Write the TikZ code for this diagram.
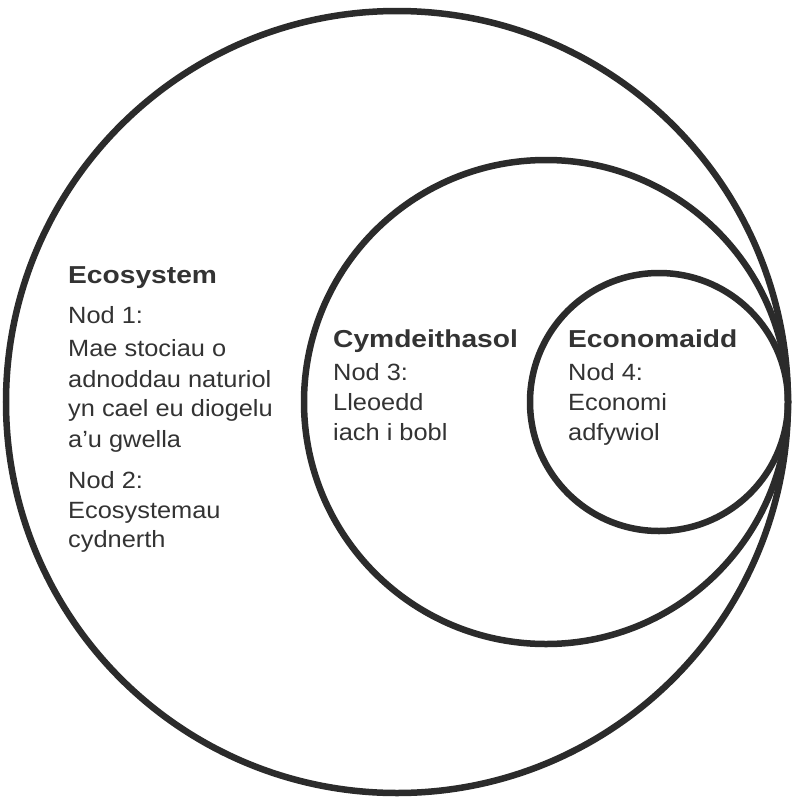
\documentclass[tikz,border=0pt]{standalone}
\usepackage{fontspec}
\newfontfamily\bodyfont{Liberation Sans}[FakeStretch=1.08]
\newfontfamily\headfont{Liberation Sans}[FakeStretch=1.15]
\definecolor{ink}{HTML}{2B2B2B}
\definecolor{txt}{HTML}{333333}
\tikzset{
  ring/.style={draw=ink, line width=6.5pt},
  title/.style={anchor=base west, inner sep=0pt, text=txt, font=\headfont\fontsize{24.5}{28}\selectfont\bfseries},
  body/.style={anchor=base west, inner sep=0pt, text=txt, font=\bodyfont\fontsize{23.5}{28}\selectfont},
}
\begin{document}
\begin{tikzpicture}[x=1pt,y=-1pt]
\useasboundingbox (0,0) rectangle (792,798);
\fill[white] (0,0) rectangle (792,798);
\node[ring, circle, minimum size=782pt, inner sep=0pt] (outer) at (397,402) {};
\node[ring, circle, minimum size=484pt, inner sep=0pt] (middle) at (546,402) {};
\node[ring, circle, minimum size=258pt, inner sep=0pt] (inner) at (659,402) {};
% Ecosystem
\node[title] (t1) at (68,283) {Ecosystem};
\node[body] (a1) at (68,323) {Nod 1:};
\node[body] (a2) at (68,356) {Mae stociau o};
\node[body] (a3) at (68,387) {adnoddau naturiol};
\node[body] (a4) at (68,416) {yn cael eu diogelu};
\node[body] (a5) at (68,447) {a’u gwella};
\node[body] (a6) at (68,488) {Nod 2:};
\node[body] (a7) at (68,518) {Ecosystemau};
\node[body] (a8) at (68,547) {cydnerth};
% Cymdeithasol
\node[title] (t2) at (333,347) {Cymdeithasol};
\node[body] (b1) at (333,380) {Nod 3:};
\node[body] (b2) at (333,410) {Lleoedd};
\node[body] (b3) at (333,440) {iach i bobl};
% Economaidd
\node[title] (t3) at (568,347) {Economaidd};
\node[body] (c1) at (568,380) {Nod 4:};
\node[body] (c2) at (568,410) {Economi};
\node[body] (c3) at (568,440) {adfywiol};
\end{tikzpicture}
\end{document}
